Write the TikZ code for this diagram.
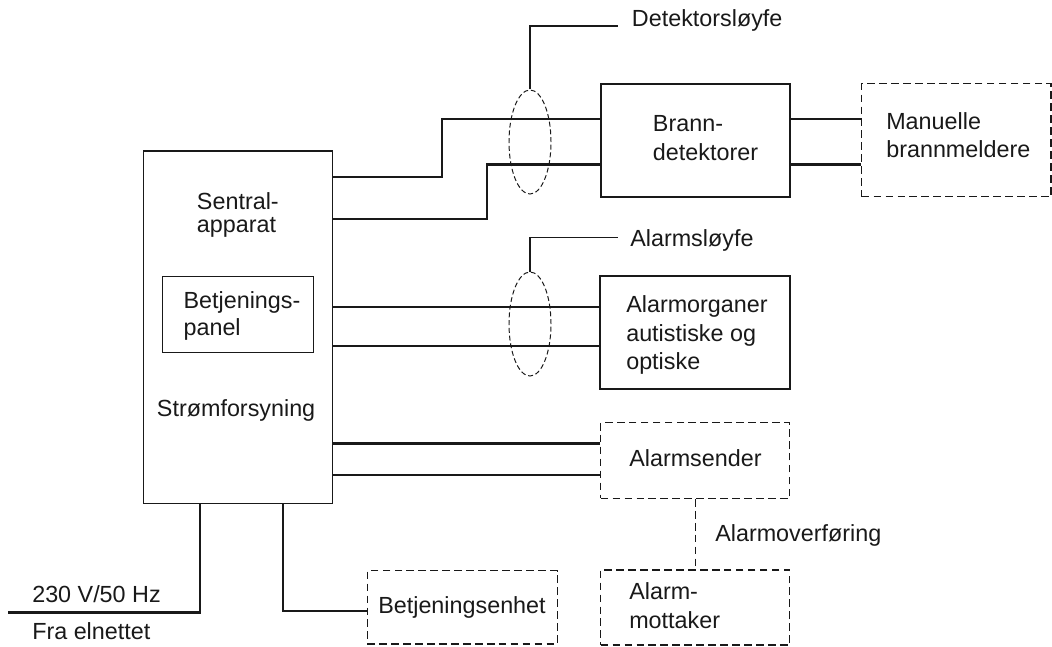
\documentclass[tikz,border=0pt]{standalone}
\usepackage{fontspec}
\setmainfont{Liberation Sans}
\usepackage{tikz}
\usetikzlibrary{shapes.geometric}
\tikzstyle{unit}=[
        draw=black!90,
        line width=1.3pt,
        inner sep=0pt
]
\tikzstyle{option}=[
        draw=black!90,
        line width=0.8pt,
        dash pattern=on 5.5pt off 3pt,
        inner sep=0pt
]
\tikzstyle{sloyfe}=[
        ellipse,
        draw=black!90,
        line width=0.7pt,
        dash pattern=on 3.5pt off 2pt,
        inner sep=0pt,
        minimum width=1.05cm,
        minimum height=2.6cm
]
\tikzstyle{wire}=[
        draw=black!90,
        line width=1.9pt
]
\tikzstyle{leader}=[
        draw=black!90,
        line width=0.8pt
]
\tikzstyle{txt}=[
        inner sep=0pt,
        align=left,
        text=black!90
]

\begin{document}
\begin{tikzpicture}[x=0.025cm, y=-0.025cm, font=\fontsize{16.6}{20.3}\selectfont]
                        \useasboundingbox (0,0) rectangle (1052,646);

                        \node[unit, line width=0.9pt, minimum width=4.74cm, minimum height=8.81cm] (sentral) at (238,327.2) {};
                        \node[unit, line width=0.9pt, minimum width=3.79cm, minimum height=1.89cm] (panel) at (238,314.5) {};
                        \node[unit, minimum width=4.73cm, minimum height=2.82cm] (brann) at (695.3,140.3) {};
                        \node[option, minimum width=4.73cm, minimum height=2.82cm] (manuelle) at (956.3,140.3) {};
                        \node[unit, minimum width=4.75cm, minimum height=2.83cm] (organer) at (695,332.3) {};
                        \node[option, minimum width=4.73cm, minimum height=1.89cm] (sender) at (695.3,460.5) {};
                        \node[option, minimum width=4.73cm, minimum height=1.875cm] (mottaker) at (695.3,607.5) {};
                        \node[option, minimum width=4.75cm, minimum height=1.83cm] (enhet) at (462.3,607.4) {};

                        \node[txt, anchor=west, font=\fontsize{16.6}{17}\selectfont] (sentrallbl) at (196.7,215) {Sentral-\\apparat};
                        \node[txt, anchor=west, font=\fontsize{16.6}{19}\selectfont] (panellbl) at (183.3,315.8) {Betjenings-\\panel};
                        \node[txt, anchor=base west] (stromlbl) at (156.7,416.7) {Strømforsyning};
                        \node[txt, anchor=west] (brannlbl) at (652.7,138) {Brann-\\detektorer};
                        \node[txt, anchor=west] (manlbl) at (886,135.3) {Manuelle\\brannmeldere};
                        \node[txt, anchor=west] (orglbl) at (626,335) {Alarmorganer\\autistiske og\\optiske};
                        \node[txt, anchor=base west] (senderlbl) at (629,466.7) {Alarmsender};
                        \node[txt, anchor=west] (mottlbl) at (629,605.9) {Alarm-\\mottaker};
                        \node[txt, anchor=base west] (enhetlbl) at (378,613.3) {Betjeningsenhet};
                        \node[txt, anchor=base west] (overflbl) at (715,541.7) {Alarmoverføring};
                        \node[txt, anchor=base west] (voltlbl) at (32,602.7) {230 V/50 Hz};
                        \node[txt, anchor=base west] (nettlbl) at (32,639.3) {Fra elnettet};
                        \node[txt, anchor=base west] (detlbl) at (631.7,26) {Detektorsløyfe};
                        \node[txt, anchor=base west] (alarmlbl) at (630,246.7) {Alarmsløyfe};

                        \coordinate (mains) at (8,612.7);

                        \draw[wire] (sentral.east |- 0,177) -| (442,119) -- (brann.west |- 0,119);
                        \draw[wire] (sentral.east |- 0,219) -| (487,164.5) -- (brann.west |- 0,164.5);
                        \draw[wire] (brann.east |- 0,119) -- (manuelle.west |- 0,119);
                        \draw[wire] (brann.east |- 0,164.5) -- (manuelle.west |- 0,164.5);

                        \draw[wire] (sentral.east |- 0,307) -- (organer.west |- 0,307);
                        \draw[wire] (sentral.east |- 0,346) -- (organer.west |- 0,346);

                        \draw[wire] (sentral.east |- 0,443.3) -- (sender.west |- 0,443.3);
                        \draw[wire] (sentral.east |- 0,475) -- (sender.west |- 0,475);

                        \draw[wire] (sentral.south -| 200,0) |- (mains);
                        \draw[wire] (sentral.south -| 283,0) |- (enhet.west |- 0,611);

                        \draw[option] (sender.south) -- (mottaker.north);

                        \node[sloyfe] (detloop) at (530,142) {};
                        \node[sloyfe] (alarmloop) at (530,324) {};

                        \draw[leader] (detloop.north) |- ([xshift=-0.34cm]detlbl.base west);
                        \draw[leader] (alarmloop.north) |- ([xshift=-0.29cm, yshift=0.235cm]alarmlbl.base west);

                    \end{tikzpicture}
\end{document}
